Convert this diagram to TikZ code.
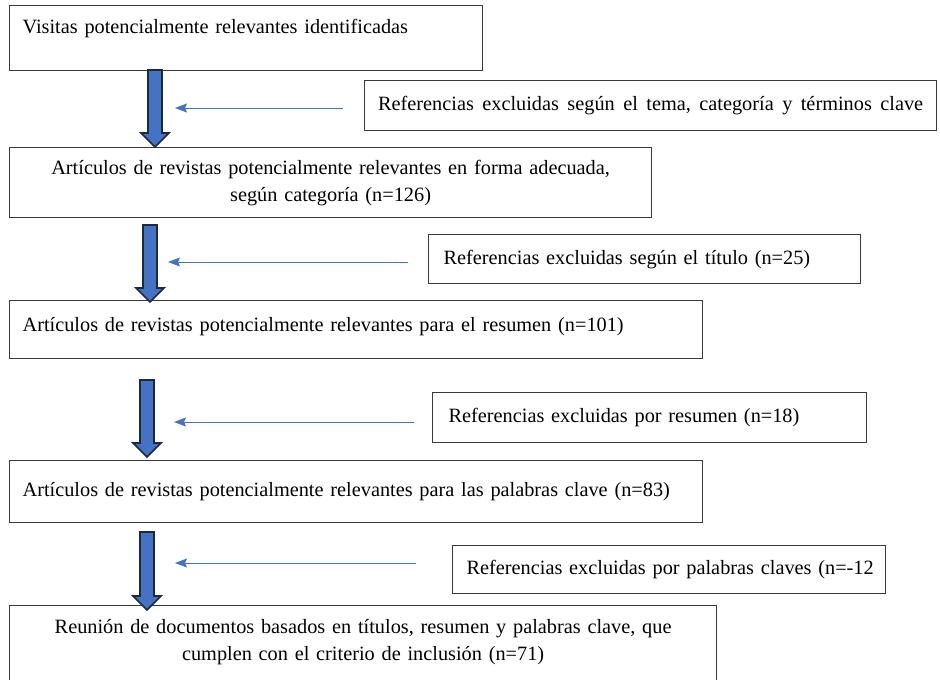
\documentclass[tikz,border=0pt]{standalone}
\usepackage{fontspec}
\setmainfont{Liberation Serif}
\usetikzlibrary{calc,arrows.meta}
\definecolor{arrowblue}{HTML}{4472C4}
\definecolor{arrowedge}{HTML}{1E2A3A}
\definecolor{boxline}{HTML}{3A3A3A}
\newcommand\blockarr[2]{%
  \path[bigarrow] let \p1=(#1), \p2=(#2) in
    (\x1-7pt,\y1) -- (\x1+7pt,\y1) -- (\x1+7pt,\y2+14pt) -- (\x1+14pt,\y2+14pt)
    -- (\x1,\y2) -- (\x1-14pt,\y2+14pt) -- (\x1-7pt,\y2+14pt) -- cycle;}
\begin{document}
\begin{tikzpicture}[x=1pt,y=-1pt,
  every node/.style={font=\fontsize{20.3}{27}\selectfont},
  box/.style={draw=boxline, line width=1.2pt, inner ysep=0pt, anchor=north west},
  leftbox/.style={box, align=left},
  centerbox/.style={box, align=center},
  bigarrow/.style={fill=arrowblue, draw=arrowedge, line width=1.6pt, line join=miter},
  thinarrow/.style={draw=arrowblue, line width=1pt, -{Stealth[length=12pt,width=9pt,inset=2pt]}}]
\useasboundingbox (0,0) rectangle (940,680);
\fill[white] (0,0) rectangle (940,680);

% main boxes
\node[leftbox, inner xsep=13pt, text width=447pt, text height=28pt, text depth=37pt] (b1) at (9,5)
  {Visitas potencialmente relevantes identificadas};
\node[centerbox, inner xsep=10pt, text width=622pt, minimum height=70pt] (b2) at (9,147)
  {Artículos de revistas potencialmente relevantes en forma adecuada,\\ según categoría (n=126)};
\node[leftbox, inner xsep=13pt, text width=667pt, text height=31pt, text depth=27pt] (b3) at (9,300)
  {Artículos de revistas potencialmente relevantes para el resumen (n=101)};
\node[leftbox, inner xsep=13pt, text width=667pt, text height=36pt, text depth=26pt] (b4) at (9,460)
  {Artículos de revistas potencialmente relevantes para las palabras clave (n=83)};
\node[centerbox, inner xsep=10pt, text width=687pt, text height=28pt, text depth=57pt] (b5) at (9,605)
  {Reunión de documentos basados en títulos, resumen y palabras clave, que\\ cumplen con el criterio de inclusión (n=71)};

% side boxes
\node[centerbox, inner xsep=0pt, text width=572pt, minimum height=50pt] (s1) at (364,80)
  {\hbox to 545pt{Referencias\hfil\ excluidas\hfil\ según\hfil\ el\hfil\ tema,\hfil\ categoría\hfil\ y\hfil\ términos\hfil\ clave}};
\node[leftbox, inner xsep=15pt, text width=402pt, minimum height=49pt] (s2) at (428,234)
  {Referencias excluidas según el título (n=25)};
\node[leftbox, inner xsep=16pt, text width=402pt, minimum height=50pt] (s3) at (432,392)
  {Referencias excluidas por resumen (n=18)};
\node[leftbox, inner xsep=14pt, text width=405pt, minimum height=48pt] (s4) at (452,545)
  {\mbox{Referencias excluidas por palabras claves (n=-12}};

% block arrows
\coordinate (a1s) at (155,70);  \coordinate (a1e) at (155,147);
\coordinate (a2s) at (150,225); \coordinate (a2e) at (150,302);
\coordinate (a3s) at (147,380); \coordinate (a3e) at (147,457);
\coordinate (a4s) at (147,532); \coordinate (a4e) at (147,610);
\blockarr{a1s}{a1e}
\blockarr{a2s}{a2e}
\blockarr{a3s}{a3e}
\blockarr{a4s}{a4e}

% thin arrows
\coordinate (t1s) at (343,108); \coordinate (t1e) at (175,108);
\coordinate (t2s) at (408,262); \coordinate (t2e) at (168,262);
\coordinate (t3s) at (414,422); \coordinate (t3e) at (174,422);
\coordinate (t4s) at (416,563); \coordinate (t4e) at (175,563);
\draw[thinarrow] (t1s) -- (t1e);
\draw[thinarrow] (t2s) -- (t2e);
\draw[thinarrow] (t3s) -- (t3e);
\draw[thinarrow] (t4s) -- (t4e);
\end{tikzpicture}
\end{document}
